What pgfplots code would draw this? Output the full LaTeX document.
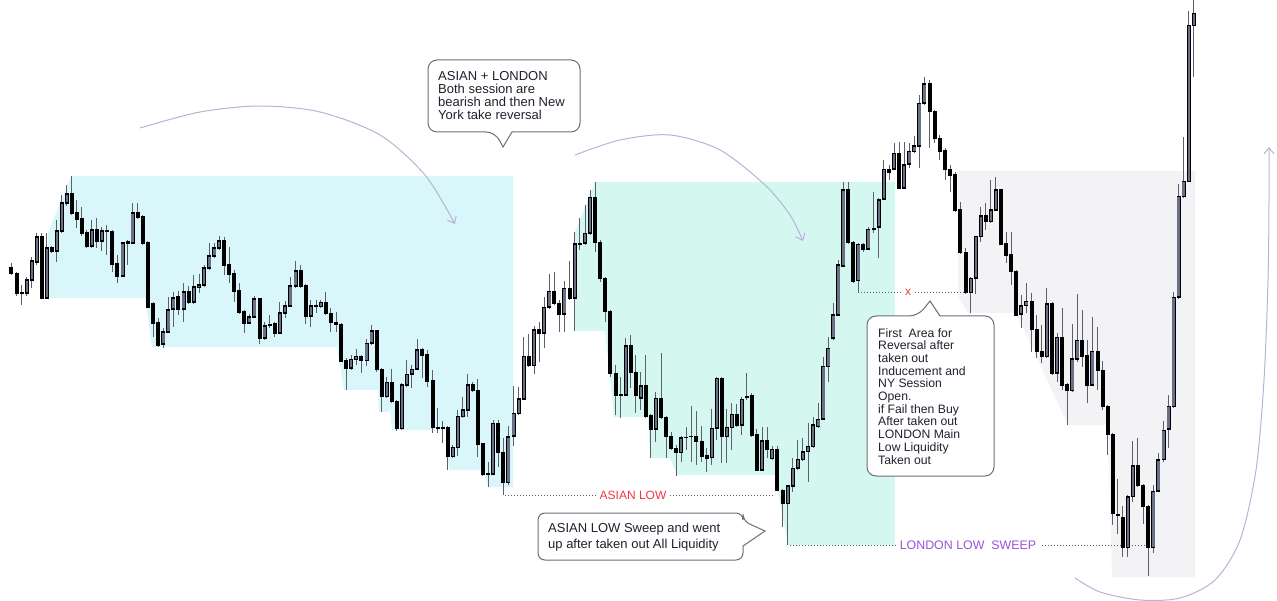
\documentclass[border=0pt]{standalone}
\usepackage{pgfplots}
\pgfplotsset{compat=1.18}
\usepackage{pgfplotstable}
\usepackage{fontspec}
\setmainfont{Liberation Sans}
\usetikzlibrary{arrows.meta}

\definecolor{asia}{HTML}{D9F6FA}
\definecolor{lond}{HTML}{D4F7F0}
\definecolor{nyk}{HTML}{F3F3F6}
\definecolor{wick}{HTML}{5D606B}
\definecolor{bull}{HTML}{697086}
\definecolor{arc}{HTML}{B3B5D3}
\definecolor{boxc}{HTML}{6B6E7A}
\definecolor{txt}{HTML}{1E222D}
\definecolor{tvred}{HTML}{F23645}
\definecolor{tvpurple}{HTML}{9B51E0}
\definecolor{dots}{HTML}{5A5D68}

% candles in picture units: x, open, high, low, close (y grows downward)
\pgfplotstableread{
x o h l c
11 268 263 275 273
16.7 274 272 296 293
21.7 293 285 305 293.5
26.7 293 277 296 280
31.7 280 257 288 261
36.7 262 233 265 237
41.7 237 233 298 298
46.7 298 233 299 248
51.7 248 246 253 251
56.7 251 220 262 231
61.7 231 195 233 203
66.7 203 185 206 194
71.7 194 176 215 213
76.7 213 200 228 219
81.7 219 207 236 233
86.7 233 230 248 246
91.7 246 220 248 230
96.7 230 218 248 241
101.7 241 227 251 231
106.7 231.5 225 255 231
112 232 230 272 264
117.3 264 255 283 276
122.5 276 242 277 243
127.5 243 240 265 242
132.5 243 203 244 213
137.5 213 203 219 217
142.5 217 215 245 243
147.7 243 241 308 307
153 304 302 337 323
158.2 323 318 347 345
163.3 344 328 348 332
168.3 332 297 333 310
173.3 309 292 327 298
178.3 297 291 315 309
183.5 309 283 322 292
188.8 292 286 304 302
193.9 302 275 304 287
199 287 274 293 285
204.2 285 265 287 268
209.3 268 243 270 256
214.3 256 243 258 248
219 248 236 250 241
224 241 237 275 265
229.3 265 247 283 274
234.3 274 270 302 291
239.3 291 283 314 312
244.3 312 310 333 323
249.3 323 314 324 317
254.3 317 296 318 299
259.5 299 298 344 338
264.5 338 322 340 326
269.8 325.5 315 328 325
274.8 324 322 337 333
279.9 333 302 334 313
285.2 313 301 318 306
290.4 306 277 307 286
295.5 286 261 288 271
300.6 271 265 288 286
305.7 286 284 324 316
310.9 316 300 327 306
316 306.5 300 313 306
320.8 306.7 300 308 302.7
325.8 302.7 292 315 313.3
330.9 313.3 308 332 322.7
336 322.7 312 332 324.3
341 324.3 323 362 361
346 361 358 390 368.3
351 368.3 355 370 359.3
356 359 349 365 356.7
361.4 356.7 355 373 360.7
366.5 360.7 339 366 343.3
371.6 343.3 325 345 331
376.7 331 330 372 369.3
381.7 369.3 368 412 396.7
386.7 396.7 377 398 382.3
391.7 382.3 369 403 401.7
396.7 401.7 400 431 428.3
401.7 428.3 383 430 385
406.7 385 360 387 374.3
411.8 374.3 365 388 369.3
417 369.3 339 370 350
422 350 348 378 355
427.3 355 350 387 381
432.5 381 370 433 427.7
437.6 427.7 408 433 428
442.7 427.7 421 443 427.7
447.7 427.7 426 470 456.7
452.7 456.7 445 458 447.7
457.7 447.7 410 456 416.7
462.7 416.7 397 418 410
467.7 410 374 417 385
472.7 385 382 392 390.7
477.7 390.7 379 457 444
482.8 444 443 476 474
488 474.5 462 487 474
493.2 474 420 475 423.3
498.3 423.3 420 467 452.7
503.3 452.7 438 495 482.7
508.4 482.7 426 485 436.7
513.5 436 386 446 413.3
518.7 413.3 387 415 399
523.8 399 337 400 356.7
528.9 356.7 334 367 365.7
534 365.7 326 374 330
539 330 322 362 333.3
544.1 333.3 297 348 307.3
549.3 307.3 274 309 291.7
554.3 291.7 272 305 303.3
559.3 303.3 300 332 314.3
564.3 314.3 281 332 288.3
569.5 288.3 261 300 298.3
574.8 298.3 232 331 244
579.9 244 218 250 243.3
585 243.3 205 245 233.3
590 233.3 190 235 197.7
595 197.7 182 252 242.7
600 242.7 240 282 278.3
605 278.3 277 322 311.7
610.2 311.7 310 377 373.3
615.5 373.3 365 415 395
620.7 395 377 418 395.5
625.8 395 338 396 346
630.8 346 335 388 372.7
635.9 372.7 355 413 395
640.9 398.3 372 410 386
645.9 386 355 418 416
650.9 416 414 458 429.3
655.9 429.3 392 442 398.3
661 398.3 353 419 417.7
666 417.7 416 458 436.7
671 436.7 432 450 448.3
676 448.3 445 476 452.7
681 452.7 436 462 437.7
686.1 437.7 427 450 437.2
691.2 436.7 406 462 436.2
696.3 436.7 411 465 441.7
701.5 441.7 426 462 456
706.7 456 448 472 458.3
711.8 457.7 409 465 428.3
716.8 428.3 377 440 378.3
721.8 378.3 377 463 436.7
726.8 436.7 409 463 427.7
731.8 427.7 403 450 414.3
736.8 414.3 404 427 425
741.8 425 397 435 399.3
746.8 397 373 400 396.5
751.8 396 393 437 435
756.8 435 429 471 470
762 470 427 471 441
767.1 441 427 458 449.3
772.2 458.3 446 460 449.3
777.4 449.3 446 491 490.7
782.6 490.7 489 527 503.3
787.7 503.3 485 545 486
792.7 486 458 492 468.3
797.7 468.3 440 470 459.3
802.8 459.3 438 461 451.7
808 451.7 423 482 446.7
813.2 446.7 417 448 425
818.3 426.7 403 428 419.3
823.3 419.3 357 420 366.7
828.3 366.7 337 382 348.3
833.3 338.3 303 340 315
838.3 315 260 316 265
843.3 266 182 267 190
848.3 190 182 244 242.7
853.3 242.7 241 283 281.7
858.3 280.7 243 292 244.3
863.3 244.3 243 252 249.3
868.3 249.3 227 250 229.3
873.5 229.3 192 233 228.8
878.8 227.3 198 258 200
883.9 199.3 160 200 169.3
889 169.3 165 180 172.7
894 169.3 143 170 153.3
899 153.3 142 189 188.3
904.2 188.3 142 189 165
909.3 164 143 168 151.7
914.3 151.7 136 153 146
919.3 146 95 168 103.3
924.4 103.3 77 105 84
929.6 84 80 148 111.7
934.8 111.7 110 143 138.3
939.9 138.3 135 160 151
945 151 148 180 169.3
950 169.3 165 192 175
955 175 172 212 210
960.2 210 202 254 252.7
965.5 252.7 248 294 292.7
970.7 292.7 277 313 278.3
975.7 278.3 236 294 236.7
980.7 236.7 207 242 216
985.7 216 203 230 221.7
990.8 221.7 180 223 210
995.9 210 177 211 190
1001 190 189 245 244
1006 244 232 263 255
1011 255 232 285 271.7
1016.1 271.7 270 316 315
1021.2 314 295 328 306
1026.3 305.7 283 313 301.7
1031.6 301.7 293 352 329.3
1036.7 329.3 315 358 351.7
1041.8 351.7 325 363 356.7
1046.9 356.7 288 358 304
1052.1 304 302 375 373.3
1057.2 373.3 333 382 337.3
1062.3 337.3 308 390 385
1067.4 385 383 425 390.7
1072.4 390.7 324 392 359
1077.4 359 294 362 340.7
1082.4 340.7 310 367 356
1087.4 356 340 403 385
1092.4 385 317 386 351.7
1097.5 351.7 327 390 370
1102.5 370.7 361 410 406.5
1107.6 406.5 405 455 434.7
1112.7 434.7 433 525 513.7
1117.7 514.9 479 534 515.3
1122.7 517.5 506 557 547.6
1127.8 547.6 495 557 496.8
1132.8 496.8 441 502 466
1137.9 466 438 487 485.5
1143 485.5 484 524 506.2
1148.2 506.2 505 576 547.6
1153.3 547.6 485 553 491.2
1158.4 491.2 453 492 459.9
1163.5 459.9 421 462 430.2
1168.5 429.1 395 448 406.5
1173.5 406.5 292 408 297.3
1178.5 297.3 184 299 196.5
1183.5 196.5 137 198 181.4
1188.7 181.4 11 182 25.6
1193.8 25.6 0 77 13.2
}\candles

\begin{document}
\begin{tikzpicture}
\useasboundingbox (0,0) rectangle (1277pt,601pt);
\begin{axis}[
    at={(0,0)}, anchor=south west,
    scale only axis, width=1277pt, height=601pt,
    xmin=0, xmax=1277, ymin=0, ymax=601,
    y dir=reverse, hide axis, clip=true,
]

% session boxes
\addplot[fill=asia, draw=none] coordinates {(48,298) (48,233) (71,176) (513,176) (513,487) (488,487) (483,470) (449,470) (446,430) (392,430) (390,412) (379,412) (378,390) (344,390) (337,347) (152,347) (145,298) (48,298)};
\addplot[fill=lond, draw=none] coordinates {(575,331) (575,232) (595,182) (895,182) (895,545) (788,545) (775,475) (677,475) (670,458) (650,458) (648,417) (614,417) (605,331) (575,331)};
\addplot[fill=nyk, draw=none] coordinates {(958,171) (1195,171) (1195,577) (1112,577) (1108,425) (1068,425) (1016,313) (968,313) (958,296) (958,171)};

% curved arrows
\addplot[arc, line width=1pt, smooth, mark=none, -{Straight Barb[length=6pt,width=10pt]}] coordinates {(140,128) (200,112) (260,106) (320,112) (380,135) (425,175) (455,224)};
\addplot[arc, line width=1pt, smooth, mark=none, -{Straight Barb[length=6pt,width=10pt]}] coordinates {(575,155) (620,140) (670,135) (720,150) (765,185) (790,215) (803,241)};
\addplot[arc, line width=1pt, smooth, mark=none, -{Straight Barb[length=6pt,width=10pt]}] coordinates {(1075,578) (1100,592) (1140,600) (1180,598) (1215,580) (1240,540) (1256,470) (1264,380) (1268,280) (1269,200) (1269,147)};

% liquidity lines
\addplot[dots, line width=0.9pt, dash pattern=on 1pt off 2pt, mark=none] coordinates {(505,495) (775,495)};
\addplot[dots, line width=0.9pt, dash pattern=on 1pt off 2pt, mark=none] coordinates {(858,292) (966,292)};
\addplot[dots, line width=0.9pt, dash pattern=on 1pt off 2pt, mark=none] coordinates {(790,545) (1150,545)};

% wicks
\addplot[draw=none, mark=none, error bars/.cd, y dir=both, y explicit, error mark=none,
    error bar style={draw=wick, solid, line width=1pt}]
    table[x=x, y expr={(\thisrow{h}+\thisrow{l})/2}, y error expr={(\thisrow{l}-\thisrow{h})/2}] {\candles};
% bodies (black outline / bearish fill)
\addplot[draw=none, mark=none, error bars/.cd, y dir=both, y explicit, error mark=none,
    error bar style={draw=black, solid, line width=4pt}]
    table[x=x, y expr={(\thisrow{o}+\thisrow{c})/2}, y error expr={abs(\thisrow{o}-\thisrow{c})/2+0.6}] {\candles};
% bullish fill
\addplot[draw=none, mark=none, error bars/.cd, y dir=both, y explicit, error mark=none,
    error bar style={draw=bull, solid, line width=2.4pt}]
    table[x=x, y expr={(\thisrow{o}+\thisrow{c})/2}, y error expr={(\thisrow{c}<\thisrow{o}) ? max(abs(\thisrow{o}-\thisrow{c})/2-0.8,0) : 0}] {\candles};

% labels on the lines
\node[fill=white, inner xsep=4pt, inner ysep=1pt, text=tvred, font=\fontsize{12}{14}\selectfont] at (axis cs:633,495) {ASIAN LOW};
\node[fill=white, inner xsep=4pt, inner ysep=1pt, text=tvred, font=\fontsize{12}{14}\selectfont] at (axis cs:908,292) {x};
\node[fill=white, inner xsep=4pt, inner ysep=1pt, text=tvpurple, font=\fontsize{12.4}{14}\selectfont] at (axis cs:968,545) {LONDON LOW~ SWEEP};

% callouts
\draw[boxc, line width=1pt, fill=white] (axis cs:428,96) [rounded corners=9pt] -- (axis cs:428,132) -- (axis cs:495,132) [sharp corners] -- (axis cs:503,147) -- (axis cs:512,132) [rounded corners=9pt] -- (axis cs:580,132) -- (axis cs:580,60) -- (axis cs:428,60) -- cycle;
\node[anchor=north west, align=left, inner sep=0pt, text=txt, font=\fontsize{13}{13}\selectfont] at (axis cs:438,71) {ASIAN + LONDON\\Both session are\\bearish and then New\\York take reversal};

\draw[boxc, line width=1pt, fill=white] (axis cs:538,537) [rounded corners=7pt] -- (axis cs:538,513) -- (axis cs:743,513) -- (axis cs:743,521) [sharp corners] -- (axis cs:765,531) -- (axis cs:743,546) [rounded corners=7pt] -- (axis cs:743,560) -- (axis cs:538,560) -- cycle;
\node[anchor=north west, align=left, inner sep=0pt, text=txt, font=\fontsize{13}{15.5}\selectfont] at (axis cs:548,523) {ASIAN LOW Sweep and went\\up after taken out All Liquidity};

\draw[boxc, line width=1pt, fill=white] (axis cs:867,396) [rounded corners=9pt] -- (axis cs:867,316) -- (axis cs:918,316) [sharp corners] -- (axis cs:930,301) -- (axis cs:940,316) [rounded corners=9pt] -- (axis cs:994,316) -- (axis cs:994,476) -- (axis cs:867,476) -- cycle;
\node[anchor=north west, align=left, inner sep=0pt, text=txt, font=\fontsize{12.2}{12.7}\selectfont] at (axis cs:878,328) {First~ Area for\\Reversal after\\taken out\\Inducement and\\NY Session\\Open.\\if Fail then Buy\\After taken out\\LONDON Main\\Low Liquidity\\Taken out};

\end{axis}
\end{tikzpicture}
\end{document}
